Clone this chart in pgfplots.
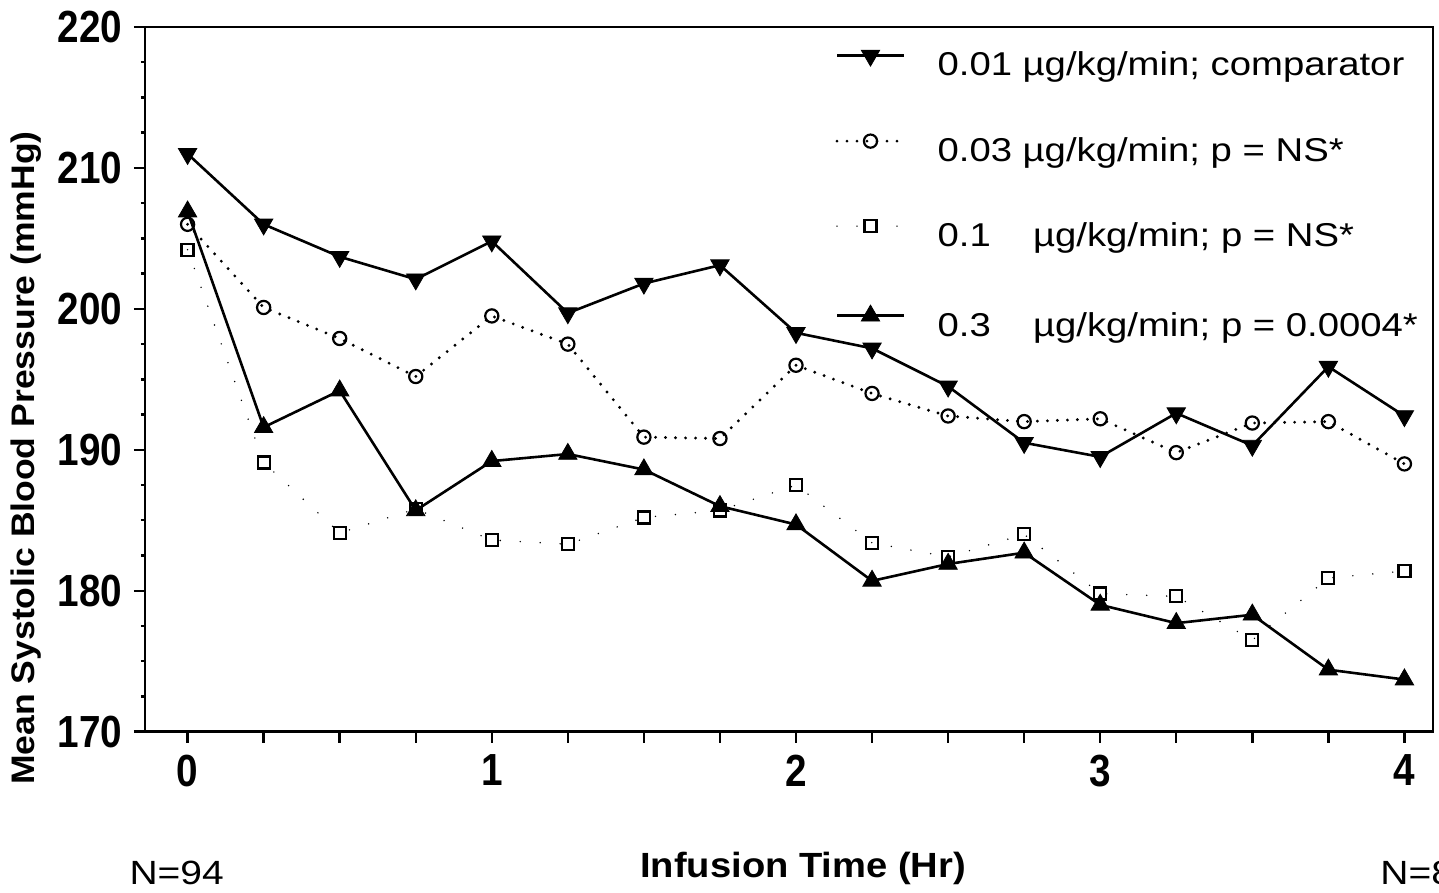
\documentclass[border=0pt]{standalone}
\usepackage{fontspec}
\setmainfont{Liberation Sans}
\newfontfamily\widefont{Liberation Sans}[FakeStretch=1.16]
\newfontfamily\labelfont{Liberation Sans}[FakeStretch=1.09]
\newfontfamily\tickfont{Liberation Sans}[FakeStretch=0.86]
\usepackage{pgfplots}
\usepackage{pgfplotstable}
\pgfplotsset{compat=1.18}

% Mean systolic blood pressure (mmHg) by infusion time (hr), one column per dose
\pgfplotstableread{
t     cmp    dA     dB     dC
0     211.0  206.0  204.2  206.9
0.25  206.0  200.1  189.1  191.6
0.5   203.7  197.9  184.1  194.2
0.75  202.1  195.2  185.8  185.7
1     204.8  199.5  183.6  189.2
1.25  199.7  197.5  183.3  189.7
1.5   201.8  190.9  185.2  188.6
1.75  203.1  190.8  185.7  186.0
2     198.3  196.0  187.5  184.7
2.25  197.2  194.0  183.4  180.7
2.5   194.5  192.4  182.4  181.9
2.75  190.5  192.0  184.0  182.7
3     189.5  192.2  179.8  179.0
3.25  192.6  189.8  179.6  177.7
3.5   190.3  191.9  176.5  178.3
3.75  195.9  192.0  180.9  174.4
4     192.4  189.0  181.4  173.7
}\sbpdata

\begin{document}
\begin{tikzpicture}
\useasboundingbox (0pt,0pt) rectangle (719.5pt,446.5pt);
\begin{axis}[
  at={(72.5pt,80.65pt)}, anchor=south west,
  scale only axis, width=644pt, height=352.35pt,
  xmin=-0.14, xmax=4.094, ymin=170, ymax=220,
  clip=false,
  axis line style={line width=1.3pt},
  tick style={black, line width=1.2pt},
  tick align=outside,
  xtick pos=left, ytick pos=left,
  major tick length=5.5pt, minor tick length=2pt,
  xtick={0,0.25,...,4},
  xticklabels={0,,,,1,,,,2,,,,3,,,,4},
  ytick={170,180,...,220},
  minor ytick={172.5,175,177.5,182.5,185,187.5,192.5,195,197.5,202.5,205,207.5,212.5,215,217.5},
  /pgf/number format/assume math mode=true,
  ticklabel style={font=\tickfont\bfseries\fontsize{22.5}{26}\selectfont},
  xticklabel style={yshift=-2.6pt},
  yticklabel style={xshift=-2.3pt},
  xlabel={Infusion Time (Hr)},
  xlabel style={font=\labelfont\bfseries\fontsize{17.5}{21}\selectfont,
    at={(axis description cs:0.511,-0.2076)}, anchor=base},
  ylabel={Mean Systolic Blood Pressure (mmHg)},
  ylabel style={font=\labelfont\bfseries\fontsize{16.3}{19}\selectfont,
    at={(axis description cs:-0.0923,0.3884)}, anchor=center},
  legend image code/.code={\draw[mark repeat=2,mark phase=2,#1]
    plot coordinates {(0pt,5.9pt) (16.75pt,5.9pt) (33.5pt,5.9pt)};},
  legend style={at={(rel axis cs:0.5357,0.9676)}, anchor=north west,
    draw=none, fill=none, inner sep=0pt, row sep=25.85pt,
    font=\widefont\fontsize{16.5}{19}\selectfont,
    nodes={inner sep=0pt, text height=12pt, text depth=3.5pt},
    /tikz/every odd column/.append style={column sep=16pt}},
  legend cell align=left,
]
\addplot[black, line width=1.3pt, mark=triangle*, mark size=5.3pt,
  mark options={solid, rotate=180, line width=0.4pt}]
  table[x=t, y=cmp]{\sbpdata};
\addlegendentry{0.01 µg/kg/min; comparator}

\addplot[black, line width=1.6pt, line cap=round, dash pattern=on 0pt off 5pt,
  mark=o, mark size=3.3pt, mark options={solid, line width=1.1pt}]
  table[x=t, y=dA]{\sbpdata};
\addlegendentry{0.03 µg/kg/min; p = NS*}

\addplot[black, line width=0.8pt, line cap=round, dash pattern=on 0pt off 10pt,
  mark=square, mark size=3pt, mark options={solid, line width=1.1pt}]
  table[x=t, y=dB]{\sbpdata};
\addlegendentry{\makebox[2.57em][l]{0.1} µg/kg/min; p = NS*}

\addplot[black, line width=1.3pt, mark=triangle*, mark size=5.3pt,
  mark options={solid, line width=0.4pt}]
  table[x=t, y=dC]{\sbpdata};
\addlegendentry{\makebox[2.57em][l]{0.3} µg/kg/min; p = 0.0004*}

\node[font=\widefont\fontsize{16.8}{19}\selectfont, anchor=base, inner sep=0pt]
  at (axis description cs:0.0246,-0.2175) {N=94};
\node[font=\widefont\fontsize{16.8}{19}\selectfont, anchor=base west, inner sep=0pt]
  at (axis description cs:0.9588,-0.2175) {N=8};
\end{axis}
\end{tikzpicture}
\end{document}
